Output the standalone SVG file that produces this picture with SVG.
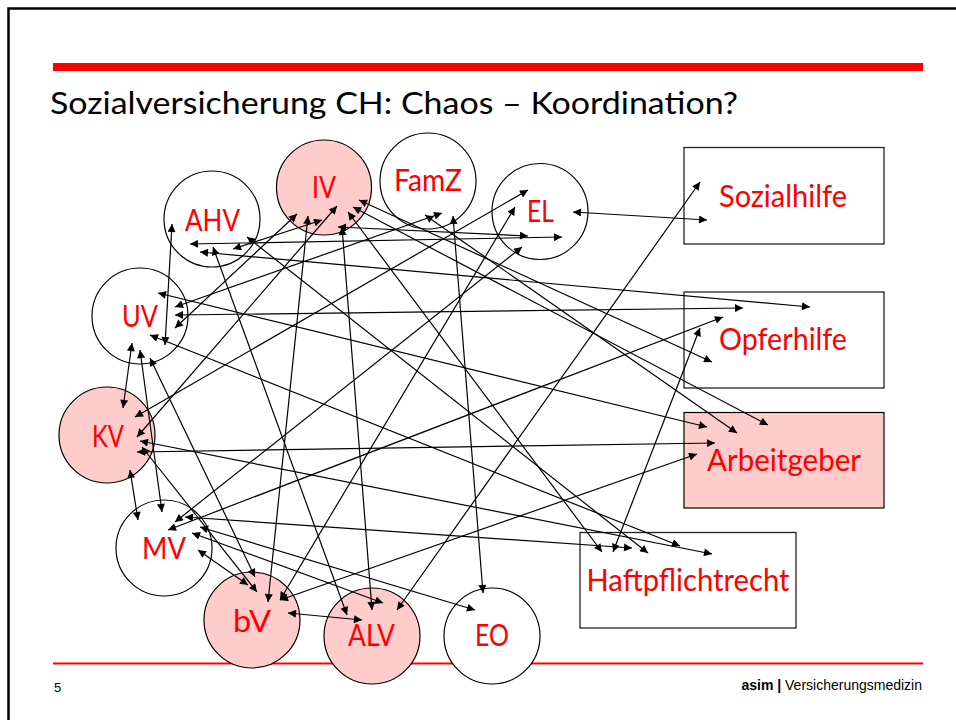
<svg xmlns="http://www.w3.org/2000/svg" width="956" height="720" viewBox="0 0 956 720">
<style>
.n{fill:#fff;stroke:#000;stroke-width:1.2}
.p{fill:#ffcccc;stroke:#000;stroke-width:1.2}
.r{fill:#fff;stroke:#222;stroke-width:1.3}
.t{font-family:Lato,"Liberation Sans",Arial,sans-serif;font-size:30px;fill:#ff0000;text-anchor:middle}
.c line{stroke:#000;stroke-width:1.2;marker-start:url(#a);marker-end:url(#a)}
</style>
<defs>
<marker id="a" viewBox="0 0 10 10" refX="10" refY="5" markerWidth="10" markerHeight="8" orient="auto-start-reverse" markerUnits="userSpaceOnUse"><path d="M0,0 L10,5 L0,10 z" fill="#000"/></marker>
</defs>
<rect width="956" height="720" fill="#fff"/>
<path d="M8.5,720 V8.5 H956" fill="none" stroke="#000" stroke-width="2.5"/>
<rect x="53" y="63" width="870" height="8" fill="#ff0000"/>
<text x="50" y="114" font-family="Lato,Liberation Sans,Arial,sans-serif" font-size="31" fill="#000" textLength="688" lengthAdjust="spacingAndGlyphs">Sozialversicherung CH: Chaos – Koordination?</text>
<line x1="53" y1="663.5" x2="923" y2="663.5" stroke="#ff0000" stroke-width="2.2"/>
<text x="54" y="692" font-family="Liberation Sans,Arial,sans-serif" font-size="13" fill="#000">5</text>
<text x="922" y="690" font-family="Liberation Sans,Arial,sans-serif" font-size="14" fill="#000" text-anchor="end"><tspan font-weight="bold">asim |</tspan> Versicherungsmedizin</text>

<g id="IV"><circle class="p" cx="324" cy="187.5" r="47.5"/><text class="t" x="324" y="198" textLength="24" lengthAdjust="spacingAndGlyphs">IV</text></g>
<g id="AHV"><circle class="n" cx="212" cy="219" r="48"/><text class="t" x="212.5" y="231" textLength="55" lengthAdjust="spacingAndGlyphs">AHV</text></g>
<g id="FamZ"><circle class="n" cx="428" cy="181" r="48"/><text class="t" x="428" y="191" textLength="68" lengthAdjust="spacingAndGlyphs">FamZ</text></g>
<g id="EL"><circle class="n" cx="540" cy="211.5" r="48"/><text class="t" x="540.5" y="222" textLength="27" lengthAdjust="spacingAndGlyphs">EL</text></g>
<g id="UV"><circle class="n" cx="140" cy="316" r="48"/><text class="t" x="140" y="327" textLength="36" lengthAdjust="spacingAndGlyphs">UV</text></g>
<g id="KV"><circle class="p" cx="107" cy="435" r="48"/><text class="t" x="108" y="447" textLength="32" lengthAdjust="spacingAndGlyphs">KV</text></g>
<g id="MV"><circle class="n" cx="164" cy="548" r="48"/><text class="t" x="164" y="559" textLength="44" lengthAdjust="spacingAndGlyphs">MV</text></g>
<g id="bV"><circle class="p" cx="252" cy="620" r="48"/><text class="t" x="252" y="632" textLength="38" lengthAdjust="spacingAndGlyphs">bV</text></g>
<g id="ALV"><circle class="p" cx="372" cy="636" r="48"/><text class="t" x="371.5" y="646" textLength="47" lengthAdjust="spacingAndGlyphs">ALV</text></g>
<g id="EO"><circle class="n" cx="492" cy="636" r="48"/><text class="t" x="492" y="646" textLength="34" lengthAdjust="spacingAndGlyphs">EO</text></g>
<g id="Sozialhilfe"><rect class="r" x="684" y="147.5" width="200" height="96.5"/><text class="t" x="783" y="207" textLength="128" lengthAdjust="spacingAndGlyphs">Sozialhilfe</text></g>
<g id="Opferhilfe"><rect class="r" x="684" y="292" width="200" height="96"/><text class="t" x="783" y="350" textLength="128" lengthAdjust="spacingAndGlyphs">Opferhilfe</text></g>
<g id="Arbeitgeber"><rect class="p" x="684" y="412.5" width="200" height="95.5"/><text class="t" x="784" y="471" textLength="154" lengthAdjust="spacingAndGlyphs">Arbeitgeber</text></g>
<g id="Haftpflichtrecht"><rect class="r" x="580" y="532.5" width="216" height="95.5"/><text class="t" x="688" y="591" textLength="203" lengthAdjust="spacingAndGlyphs">Haftpflichtrecht</text></g>

<g id="connectors" class="c">
<line x1="172" y1="224" x2="165" y2="345"/>
<line x1="190" y1="244" x2="562" y2="237"/>
<line x1="200" y1="252" x2="810" y2="307"/>
<line x1="213" y1="247" x2="347" y2="615"/>
<line x1="233" y1="249" x2="322" y2="220"/>
<line x1="247" y1="237" x2="648" y2="553"/>
<line x1="338" y1="227" x2="528" y2="236"/>
<line x1="342" y1="227" x2="372" y2="610"/>
<line x1="308" y1="216" x2="268" y2="602"/>
<line x1="337" y1="206" x2="137" y2="437"/>
<line x1="297" y1="214" x2="175" y2="328"/>
<line x1="359" y1="200" x2="712" y2="362"/>
<line x1="353" y1="207" x2="768" y2="425"/>
<line x1="348" y1="212" x2="602" y2="552"/>
<line x1="425" y1="215" x2="737" y2="433"/>
<line x1="442" y1="213" x2="175" y2="307"/>
<line x1="453" y1="216" x2="483" y2="593"/>
<line x1="528" y1="190" x2="135" y2="417"/>
<line x1="515" y1="207" x2="280" y2="600"/>
<line x1="522" y1="247" x2="175" y2="522"/>
<line x1="573" y1="212" x2="707" y2="220"/>
<line x1="700" y1="182" x2="397" y2="610"/>
<line x1="175" y1="315" x2="743" y2="308"/>
<line x1="158" y1="293" x2="707" y2="427"/>
<line x1="150" y1="335" x2="680" y2="546"/>
<line x1="140" y1="350" x2="162" y2="512"/>
<line x1="150" y1="358" x2="255" y2="577"/>
<line x1="132" y1="343" x2="123" y2="408"/>
<line x1="137" y1="452" x2="715" y2="443"/>
<line x1="140" y1="441" x2="712" y2="554"/>
<line x1="142" y1="447" x2="257" y2="592"/>
<line x1="130" y1="470" x2="138" y2="520"/>
<line x1="168" y1="530" x2="723" y2="317"/>
<line x1="185" y1="517" x2="632" y2="548"/>
<line x1="192" y1="533" x2="383" y2="603"/>
<line x1="200" y1="527" x2="475" y2="610"/>
<line x1="198" y1="550" x2="248" y2="585"/>
<line x1="280" y1="600" x2="697" y2="454"/>
<line x1="288" y1="613" x2="362" y2="620"/>
<line x1="700" y1="328" x2="613" y2="552"/>
</g>
</svg>
